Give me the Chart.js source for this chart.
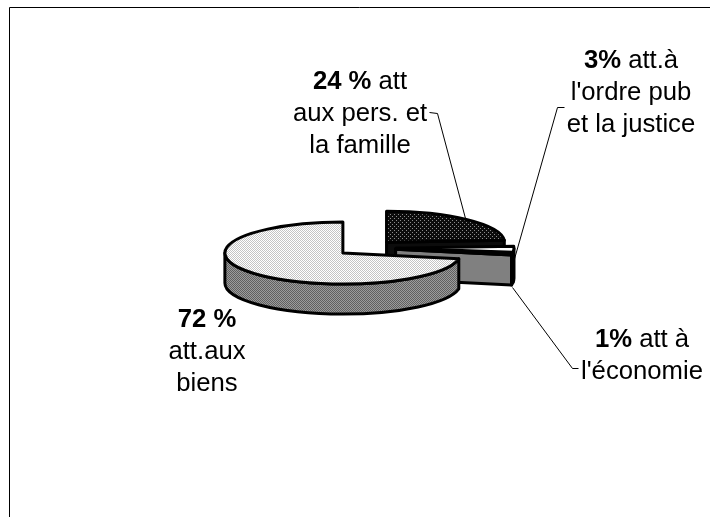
<!DOCTYPE html>
<html><head><meta charset="utf-8">
<style>html,body{margin:0;padding:0;background:#fff}#w{position:relative;width:710px;height:517px}</style>
<script src="https://cdn.jsdelivr.net/npm/chart.js@4/dist/chart.umd.min.js"></script>
</head><body><div id="w"><canvas id="c" width="710" height="517"></canvas></div>
<script>
const categories = ["att aux pers. et la famille","att.à l'ordre pub et la justice","att à l'économie","att.aux biens"];
const shares = [24, 3, 1, 72];
const labelLines = [
  [["24 %"," att"],["","aux pers. et"],["","la famille"]],
  [["3%"," att.à"],["","l'ordre pub"],["","et la justice"]],
  [["1%"," att à"],["","l'économie"]],
  [["72 %",""],["","att.aux"],["","biens"]]
];
const labelAnchors = [[360,89],[631,68],[642,347],[207,327]];
const leaders = [
  [[429,112],[437,113],[465,218]],
  [[564,107],[557,107],[513,262]],
  [[512,287],[572,368],[578,368]]
];
const SQUASH = 0.263, DEPTH = 30, FONT = '"Liberation Sans", Arial, sans-serif', FONT_PX = 25.7;

function pat(w, h, bg, fg, cells){
  const c = document.createElement('canvas'); c.width = w; c.height = h;
  const x = c.getContext('2d'); x.fillStyle = bg; x.fillRect(0,0,w,h); x.fillStyle = fg;
  cells.forEach(p => x.fillRect(p[0],p[1],1,1));
  return x.createPattern(c,'repeat');
}
const checker = [[0,0],[1,1]];
const topFills = [
  pat(4,4,'#0c0c0c','#8c8c8c',[[0,0],[2,2]]),
  '#ffffff', '#000000',
  pat(2,2,'#ffffff','#c4c4c4',checker)
];
const wallFills = ['#0c0c0c','#000000','#000000', pat(2,2,'#9c9c9c','#606060',checker)];
const faceFills = ['#0c0c0c','#000000','#808080','#808080'];

const pie3d = {
  id:'pie3d',
  beforeDatasetDraw(chart){
    const ctx = chart.ctx, arcs = chart.getDatasetMeta(0).data;
    ctx.save();
    ctx.lineWidth = 3; ctx.strokeStyle = '#000'; ctx.lineJoin = 'round';
    [0,1,2,3].forEach(i=>{
      const a = arcs[i], o = a.options;
      const mid = (a.startAngle + a.endAngle)/2, R = a.outerRadius, off = o.offset||0;
      const ax = a.x + Math.cos(mid)*off, ay = a.y + Math.sin(mid)*off*SQUASH, ry = R*SQUASH;
      const pt = t => [ax + Math.cos(t)*R, ay + Math.sin(t)*ry];
      const e = a.endAngle;
      if (Math.cos(e) > 0.001){
        const p = pt(e);
        ctx.beginPath(); ctx.moveTo(ax,ay); ctx.lineTo(p[0],p[1]); ctx.lineTo(p[0],p[1]+DEPTH);
        ctx.lineTo(ax,ay+DEPTH); ctx.closePath();
        ctx.fillStyle = faceFills[i]; ctx.fill(); ctx.stroke();
      }
      const s0 = Math.max(a.startAngle,0), s1 = Math.min(a.endAngle,Math.PI);
      if (s1 > s0){
        ctx.beginPath(); ctx.ellipse(ax,ay,R,ry,0,s0,s1);
        ctx.ellipse(ax,ay+DEPTH,R,ry,0,s1,s0,true); ctx.closePath();
        ctx.fillStyle = wallFills[i]; ctx.fill(); ctx.stroke();
      }
      ctx.beginPath(); ctx.moveTo(ax,ay); ctx.ellipse(ax,ay,R,ry,0,a.startAngle,a.endAngle); ctx.closePath();
      ctx.fillStyle = o.backgroundColor; ctx.fill(); ctx.stroke();
    });
    ctx.restore();
    return false;
  },
  afterDraw(chart){
    const ctx = chart.ctx;
    ctx.save();
    ctx.strokeStyle='#000'; ctx.lineWidth=1;
    ctx.beginPath(); ctx.moveTo(9.5,517); ctx.lineTo(9.5,7.5); ctx.lineTo(710,7.5); ctx.stroke();
    ctx.beginPath();
    leaders.forEach(l=>l.forEach((p,j)=> j? ctx.lineTo(p[0]+.5,p[1]+.5):ctx.moveTo(p[0]+.5,p[1]+.5)));
    ctx.stroke();
    ctx.fillStyle='#000'; ctx.textBaseline='alphabetic'; ctx.textAlign='left';
    labelLines.forEach((lines,i)=>{
      lines.forEach((ln,j)=>{
        const bold='bold '+FONT_PX+'px '+FONT, reg=FONT_PX+'px '+FONT;
        ctx.font=bold; const w0=ctx.measureText(ln[0]).width;
        ctx.font=reg; const w1=ctx.measureText(ln[1]).width;
        const x=labelAnchors[i][0]-(w0+w1)/2, y=labelAnchors[i][1]+j*32;
        ctx.font=bold; ctx.fillText(ln[0],x,y);
        ctx.font=reg; ctx.fillText(ln[1],x+w0,y);
      });
    });
    ctx.restore();
  }
};

new Chart(document.getElementById('c'),{
  type:'pie',
  data:{labels:categories,datasets:[{data:shares,backgroundColor:topFills,borderColor:'#000',borderWidth:2,offset:30}]},
  options:{
    responsive:false,animation:false,radius:118,
    layout:{padding:{left:22,bottom:21}},
    plugins:{legend:{display:false},tooltip:{enabled:false}},
    events:[]
  },
  plugins:[pie3d]
});
</script></body></html>
